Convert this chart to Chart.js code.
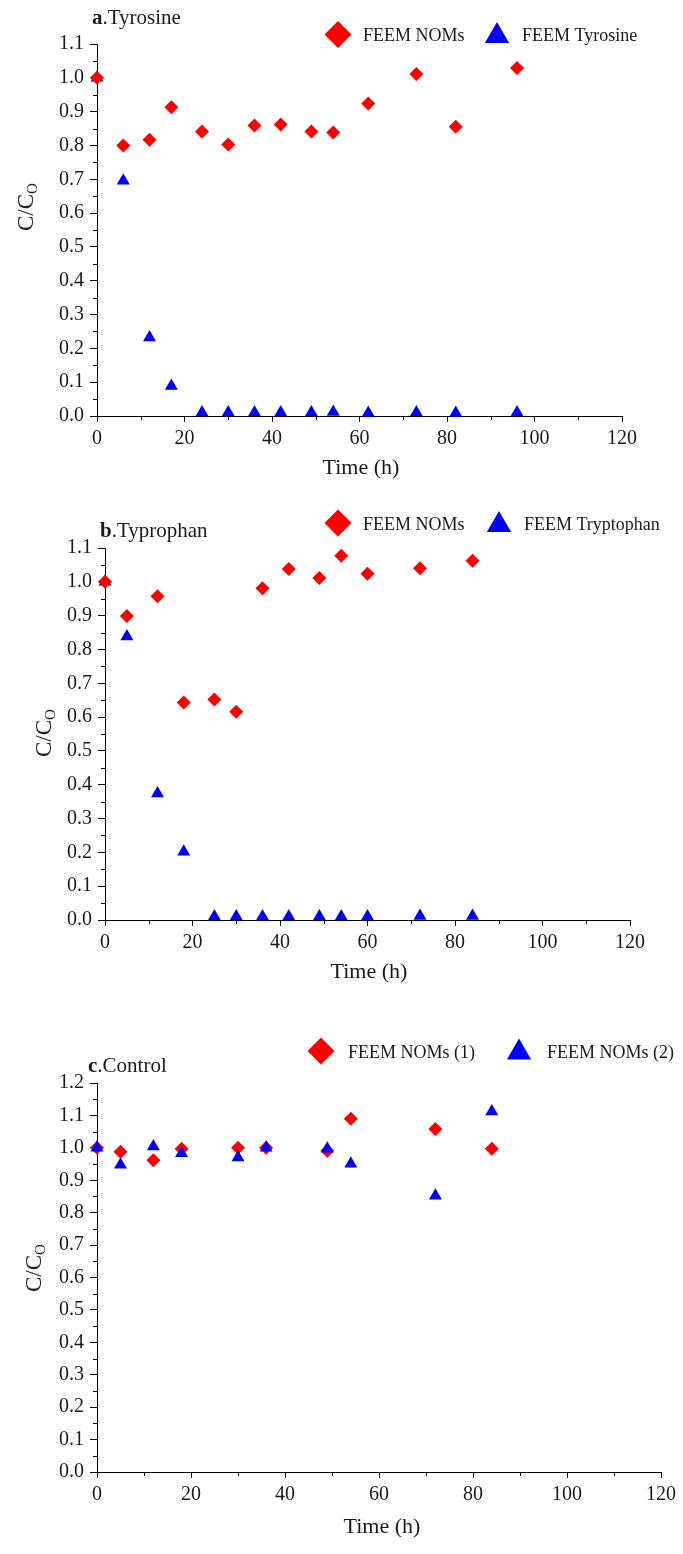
<!DOCTYPE html>
<html>
<head>
<meta charset="utf-8" />
<title>C/Co versus time</title>
<script src="https://cdn.jsdelivr.net/npm/chart.js@4.4.1/dist/chart.umd.min.js"></script>
<style>
  body { margin: 0; background: #fff; width: 683px; height: 1554px; position: relative; overflow: hidden;
         font-family: "Liberation Serif", "Times New Roman", serif; color: #1a1a1a; }
  canvas { position: absolute; left: 0; }
  .lbl { position: absolute; white-space: nowrap; line-height: 1; }
  .ttl { font-size: 21px; }
  .xt { font-size: 22px; transform: translateX(-50%); }
  .yt { font-size: 23px; transform: translate(-50%, -50%) rotate(-90deg); }
  .yt sub { font-size: 15px; vertical-align: -4px; line-height: 1; }
</style>
</head>
<body>

<canvas id="chartA" width="683" height="490" style="top:0px"></canvas>
<canvas id="chartB" width="683" height="490" style="top:490px"></canvas>
<canvas id="chartC" width="683" height="574" style="top:980px"></canvas>

<!-- panel titles and axis titles -->
<div class="lbl ttl" style="left:92px; top:7px"><b>a</b>.Tyrosine</div>
<div class="lbl ttl" style="left:100px; top:520px"><b>b</b>.Typrophan</div>
<div class="lbl ttl" style="left:88px; top:1055px"><b>c</b>.Control</div>

<div class="lbl xt" style="left:361px; top:456px">Time (h)</div>
<div class="lbl xt" style="left:369px; top:960px">Time (h)</div>
<div class="lbl xt" style="left:382px; top:1515px">Time (h)</div>

<div class="lbl yt" style="left:27px; top:207px">C/C<sub>O</sub></div>
<div class="lbl yt" style="left:45px; top:733px">C/C<sub>O</sub></div>
<div class="lbl yt" style="left:35px; top:1268px">C/C<sub>O</sub></div>

<script>
// ---- data ----
// a. Tyrosine
var timeA = [0, 6, 12, 17, 24, 30, 36, 42, 49, 54, 62, 73, 82, 96];
var nomsA = [1.0, 0.80, 0.817, 0.913, 0.841, 0.803, 0.859, 0.862, 0.841, 0.838, 0.924, 1.011, 0.855, 1.029];
var tyrosineA = [1.0, 0.696, 0.232, 0.089, 0.01, 0.01, 0.01, 0.01, 0.01, 0.012, 0.009, 0.01, 0.009, 0.01];

// b. Tryptophan
var timeB = [0, 5, 12, 18, 25, 30, 36, 42, 49, 54, 60, 72, 84];
var nomsB = [1.0, 0.899, 0.957, 0.643, 0.652, 0.616, 0.981, 1.038, 1.011, 1.077, 1.024, 1.040, 1.062];
var tryptophanB = [1.0, 0.838, 0.374, 0.202, 0.01, 0.01, 0.01, 0.01, 0.01, 0.01, 0.01, 0.012, 0.012];

// c. Control
var timeC = [0, 5, 12, 18, 30, 36, 49, 54, 72, 84];
var noms1C = [1.0, 0.988, 0.962, 0.997, 1.0, 1.0, 0.991, 1.090, 1.058, 0.997];
var noms2C = [1.0, 0.948, 1.004, 0.983, 0.970, 1.0, 0.997, 0.951, 0.852, 1.112];

var timeTicks = { min: 0, max: 120, step: 20 };

var RED = '#ff0000';
var BLUE = '#0000ff';
var INK = '#1a1a1a';

Chart.defaults.font.family = '"Liberation Serif", "Times New Roman", serif';
Chart.defaults.color = INK;

function points(xs, ys) {
    var out = [];
    for (var i = 0; i < xs.length; i++) out.push({ x: xs[i], y: ys[i] });
    return out;
}

function shapePath(ctx, style, x, y, r) {
    ctx.beginPath();
    if (style === 'triangle') {
        var s = r * Math.sin(Math.PI / 3);
        ctx.moveTo(x, y - r);
        ctx.lineTo(x + s, y + r / 2);
        ctx.lineTo(x - s, y + r / 2);
    } else {
        ctx.moveTo(x - r, y);
        ctx.lineTo(x, y - r);
        ctx.lineTo(x + r, y);
        ctx.lineTo(x, y + r);
    }
    ctx.closePath();
}

// legend: marker + label for each dataset, placed where the figure has them
var markLegend = {
    id: 'markLegend',
    afterDraw: function(chart, args, opts) {
        var ctx = chart.ctx;
        ctx.save();
        chart.data.datasets.forEach(function(ds, i) {
            var it = opts.items[i];
            shapePath(ctx, ds.pointStyle, it.mx, it.my, it.r);
            ctx.fillStyle = ds.backgroundColor;
            ctx.fill();
            ctx.fillStyle = INK;
            ctx.font = '18px "Liberation Serif", "Times New Roman", serif';
            ctx.textBaseline = 'alphabetic';
            ctx.fillText(ds.label, it.tx, it.ty);
        });
        ctx.restore();
    }
};

// short minor ticks between the labelled ones
var minorTicks = {
    id: 'minorTicks',
    afterDraw: function(chart) {
        var ctx = chart.ctx, area = chart.chartArea;
        var x = chart.scales.x, y = chart.scales.y;
        ctx.save();
        ctx.strokeStyle = '#000';
        ctx.lineWidth = 1;
        ctx.beginPath();
        for (var v = 10; v < x.max; v += 20) {
            var px = Math.round(x.getPixelForValue(v)) + 0.5;
            ctx.moveTo(px, area.bottom);
            ctx.lineTo(px, area.bottom + 4);
        }
        for (var k = 0; k < Math.round(y.max * 10); k++) {
            var py = Math.round(y.getPixelForValue(k / 10 + 0.05)) + 0.5;
            ctx.moveTo(area.left - 4, py);
            ctx.lineTo(area.left, py);
        }
        ctx.stroke();
        ctx.restore();
    }
};

function makeChart(id, p) {
    var ds = [
        { label: p.labels[0], data: points(p.x1, p.y1), pointStyle: 'rectRot', pointRadius: 7, pointHoverRadius: 7,
          backgroundColor: RED, borderColor: RED, borderWidth: 0, clip: false, order: p.order[0] },
        { label: p.labels[1], data: points(p.x2, p.y2), pointStyle: 'triangle', pointRadius: 7.5, pointHoverRadius: 7.5,
          backgroundColor: BLUE, borderColor: BLUE, borderWidth: 0, clip: false, order: p.order[1] }
    ];
    return new Chart(document.getElementById(id), {
        type: 'scatter',
        data: { datasets: ds },
        options: {
            responsive: false,
            animation: false,
            devicePixelRatio: 1,
            layout: { padding: { top: p.pad.top, right: p.pad.right, left: 0, bottom: 0 } },
            plugins: {
                legend: { display: false },
                tooltip: { enabled: false },
                markLegend: { items: p.legend }
            },
            scales: {
                x: {
                    type: 'linear', min: timeTicks.min, max: timeTicks.max,
                    afterFit: function(s) { s.height = p.pad.xh; },
                    ticks: { stepSize: timeTicks.step, autoSkip: false, maxRotation: 0, padding: 5,
                             font: { size: 20 }, color: INK },
                    grid: { drawOnChartArea: false, drawTicks: true, tickLength: 6, color: '#000' },
                    border: { color: '#000', width: 1 }
                },
                y: {
                    type: 'linear', min: 0, max: p.ymax,
                    afterFit: function(s) { s.width = p.pad.yw; },
                    ticks: { stepSize: 0.1, autoSkip: false, padding: 6, font: { size: 20 }, color: INK,
                             callback: function(v) { return v.toFixed(1); } },
                    grid: { drawOnChartArea: false, drawTicks: true, tickLength: 7, color: '#000' },
                    border: { color: '#000', width: 1 }
                }
            }
        },
        plugins: [markLegend, minorTicks]
    });
}

makeChart('chartA', {
    labels: ['FEEM NOMs', 'FEEM Tyrosine'],
    x1: timeA, y1: nomsA, x2: timeA, y2: tyrosineA, order: [0, 1], ymax: 1.1,
    pad: { top: 44, right: 61, yw: 97, xh: 74 },
    legend: [{ mx: 338, my: 34.5, r: 13.5, tx: 363, ty: 41 }, { mx: 497, my: 36, r: 14, tx: 522, ty: 41 }]
});

makeChart('chartB', {
    labels: ['FEEM NOMs', 'FEEM Tryptophan'],
    x1: timeB, y1: nomsB, x2: timeB, y2: tryptophanB, order: [0, 1], ymax: 1.1,
    pad: { top: 58, right: 53, yw: 105, xh: 60 },
    legend: [{ mx: 338, my: 33, r: 13.5, tx: 363, ty: 40 }, { mx: 499, my: 35, r: 14, tx: 524, ty: 40 }]
});

makeChart('chartC', {
    labels: ['FEEM NOMs (1)', 'FEEM NOMs (2)'],
    x1: timeC, y1: noms1C, x2: timeC, y2: noms2C, order: [1, 0], ymax: 1.2,
    pad: { top: 103, right: 22, yw: 97, xh: 82 },
    legend: [{ mx: 321, my: 71, r: 13.5, tx: 348, ty: 78 }, { mx: 519, my: 72.5, r: 14, tx: 547, ty: 78 }]
});
</script>
</body>
</html>
